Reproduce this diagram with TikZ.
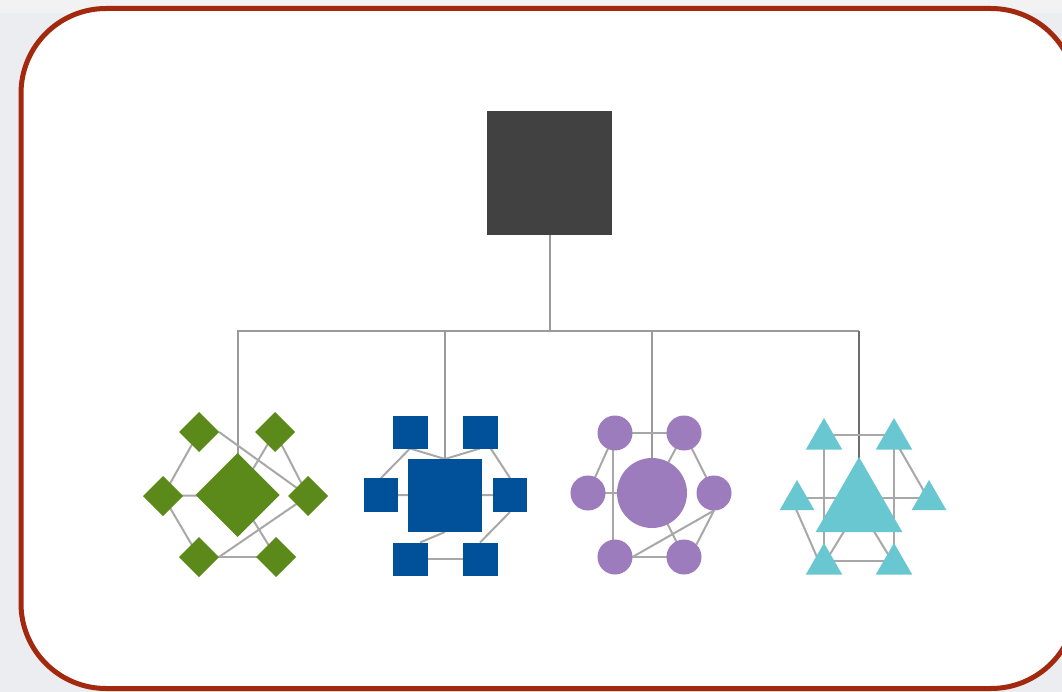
\documentclass[tikz,border=0pt]{standalone}
\usetikzlibrary{shapes.geometric,calc}
\pgfdeclarelayer{canvas}
\pgfdeclarelayer{links}
\pgfsetlayers{canvas,links,main}

\definecolor{paper}{HTML}{ECEDF1}
\definecolor{band}{HTML}{F2F2F3}
\definecolor{frame}{HTML}{A2290E}
\definecolor{rootgray}{HTML}{414141}
\definecolor{leaf}{HTML}{5B8A1A}
\definecolor{navy}{HTML}{00519A}
\definecolor{lilac}{HTML}{9C7CBC}
\definecolor{aqua}{HTML}{69C7D1}
\definecolor{linkgray}{HTML}{A8A8A8}
\definecolor{busgray}{HTML}{9A9A9A}
\definecolor{busdark}{HTML}{6E6E6E}

\begin{document}
\begin{tikzpicture}[x=1pt,y=-1pt,
  plain/.style={inner sep=0pt,outer sep=0pt,draw=none},
  rootbox/.style={plain,rectangle,fill=rootgray,minimum width=125pt,minimum height=124pt},
  gdia/.style={plain,diamond,fill=leaf,minimum size=#1},
  bsq/.style={plain,rectangle,fill=navy,minimum width=#1},
  pdot/.style={plain,circle,fill=lilac,minimum size=#1},
  ctri/.style={plain,regular polygon,regular polygon sides=3,fill=aqua,minimum size=#1},
  link/.style={draw=linkgray,line width=2pt},
  bus/.style={draw=busgray,line width=2pt}]

\useasboundingbox (0,0) rectangle (1062,692);

% page background and rounded frame
\begin{pgfonlayer}{canvas}
  \fill[paper] (0,0) rectangle (1062,692);
  \fill[band] (0,0) rectangle (1062,13);
  \draw[draw=frame,line width=5pt,fill=white,rounded corners=85pt] (21,8.5) rectangle (1076,688.5);
\end{pgfonlayer}

% root
\node[rootbox] (root) at (549.5,173) {};

% green diamond cluster
\node[gdia=84pt] (g0) at (237.5,495) {};
\node[gdia=40pt] (g1) at (199,432) {};
\node[gdia=40pt] (g2) at (275,432) {};
\node[gdia=40pt] (g3) at (163,496) {};
\node[gdia=40pt] (g4) at (308,496) {};
\node[gdia=40pt] (g5) at (199,557) {};
\node[gdia=40pt] (g6) at (276,557) {};

% blue square cluster
\node[bsq=74pt,minimum height=73pt] (b0) at (445,495.5) {};
\node[bsq=35pt,minimum height=33pt] (b1) at (410,432) {};
\node[bsq=35pt,minimum height=33pt] (b2) at (480,432) {};
\node[bsq=34pt,minimum height=34pt] (b3) at (381,495) {};
\node[bsq=34pt,minimum height=34pt] (b4) at (510,495) {};
\node[bsq=35pt,minimum height=33pt] (b5) at (410,559) {};
\node[bsq=35pt,minimum height=33pt] (b6) at (480,559) {};

% purple circle cluster
\node[pdot=70pt] (p0) at (652,493) {};
\node[pdot=35pt] (p1) at (615,433) {};
\node[pdot=35pt] (p2) at (684,433) {};
\node[pdot=35pt] (p3) at (588,493) {};
\node[pdot=35pt] (p4) at (714,493) {};
\node[pdot=35pt] (p5) at (615,557) {};
\node[pdot=35pt] (p6) at (684,557) {};

% cyan triangle cluster
\node[ctri=100pt] (c0) at (859,507) {};
\node[ctri=42pt] (c1) at (824,439) {};
\node[ctri=42pt] (c2) at (894,439) {};
\node[ctri=40pt] (c3) at (797,500) {};
\node[ctri=40pt] (c4) at (929,500) {};
\node[ctri=42pt] (c5) at (824,564) {};
\node[ctri=42pt] (c6) at (894,564) {};

\coordinate (hub) at (549.5,331);

\begin{pgfonlayer}{links}
  % tree connectors
  \draw[bus] (root.south) -- (hub);
  \draw[bus] (g0.center) -- (g0 |- hub) -- (c0 |- hub);
  \draw[bus] (b0 |- hub) -- (b0.center);
  \draw[bus] (p0 |- hub) -- (p0.center);
  \draw[draw=busdark,line width=2pt] (c0 |- hub) -- (c0.center);

  % green links
  \draw[link] (g1.center) -- (g3.center);
  \draw[link] (g1.east) -- (g4.center);
  \draw[link] (g2.center) -- (g4.center);
  \draw[link] (g2.center) -- (g0.center) -- (g6.center);
  \draw[link] (g3.center) -- (g0.center);
  \draw[link] (g3.center) -- (g5.center);
  \draw[link] (g5.center) -- (g6.center);
  \draw[link] (g5.east) -- (g4.center);

  % blue links
  \draw[link] (b1.south) -- (b0.north);
  \draw[link] (b2.south) -- (b0.north);
  \draw[link] (b1.south) -- (b3.north);
  \draw[link] (b2.center) -- (b4.north);
  \draw[link] (b3.center) -- (b0.center) -- (b4.center);
  \draw[link] (b4.south) -- (b6.north);
  \draw[link] (b0.south) -- ($(b5.north)+(10,0)$);
  \draw[link] (b5.center) -- (b6.center);

  % purple links
  \draw[link] (p1.center) -- (p2.center);
  \draw[link] (p1.center) -- (p3.center);
  \draw[link] ($(p1.center)+(-2,0)$) -- ($(p5.center)+(-2,0)$);
  \draw[link] (p3.center) -- (p0.center);
  \draw[link] (p2.center) -- (p0.center);
  \draw[link] (p2.center) -- (p4.center);
  \draw[link] (p4.south) -- (p5.east);
  \draw[link] (p4.south) -- (p6.45);
  \draw[link] (p0.center) -- (p6.center);
  \draw[link] (p5.center) -- (p6.center);

  % cyan links
  \draw[link] ($(c1.center)+(0,-4)$) -- ($(c2.center)+(0,-4)$);
  \draw[link] (c1.center) -- (c5.center);
  \draw[link] (c2.center) -- (c6.center);
  \draw[link] ($(c3.center)+(0,-2)$) -- ($(c4.center)+(0,-2)$);
  \draw[link] ($(c3.center)+(-5,0)$) -- ($(c5.center)+(-4,0)$);
  \draw[link] (c2.center) -- (c4.center);
  \draw[link] (c0.center) -- (c5.center);
  \draw[link] (c0.center) -- (c6.center);
  \draw[link] ($(c5.center)+(0,-3)$) -- ($(c6.center)+(0,-3)$);
\end{pgfonlayer}
\end{tikzpicture}
\end{document}
